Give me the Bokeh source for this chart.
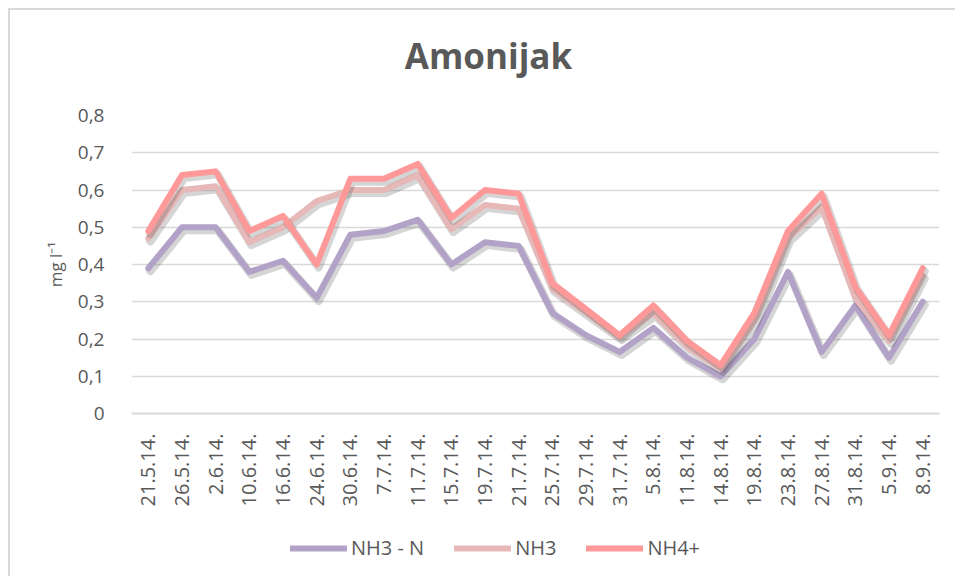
from bokeh.plotting import figure
from bokeh.models import (FactorRange, Range1d, FixedTicker, Legend, LegendItem, Label)
from bokeh.layouts import column
from bokeh.transform import dodge
from bokeh.embed import file_html
from bokeh.resources import INLINE
from math import pi

# ---- data ----
dates = ["21.5.14.", "26.5.14.", "2.6.14.", "10.6.14.", "16.6.14.", "24.6.14.",
         "30.6.14.", "7.7.14.", "11.7.14.", "15.7.14.", "19.7.14.", "21.7.14.",
         "25.7.14.", "29.7.14.", "31.7.14.", "5.8.14.", "11.8.14.", "14.8.14.",
         "19.8.14.", "23.8.14.", "27.8.14.", "31.8.14.", "5.9.14.", "8.9.14."]
nh3_n = [0.39, 0.50, 0.50, 0.38, 0.41, 0.31, 0.48, 0.49, 0.52, 0.40, 0.46, 0.45,
         0.27, 0.21, 0.165, 0.23, 0.15, 0.10, 0.20, 0.38, 0.165, 0.29, 0.15, 0.30]
nh3 = [0.47, 0.60, 0.61, 0.46, 0.50, 0.57, 0.60, 0.60, 0.64, 0.495, 0.56, 0.55,
       0.335, 0.27, 0.205, 0.27, 0.18, 0.12, 0.25, 0.47, 0.555, 0.31, 0.195, 0.37]
nh4 = [0.49, 0.64, 0.65, 0.49, 0.53, 0.40, 0.63, 0.63, 0.67, 0.525, 0.60, 0.59,
       0.35, 0.28, 0.21, 0.29, 0.195, 0.13, 0.27, 0.49, 0.59, 0.34, 0.21, 0.39]
series_names = ["NH3 - N", "NH3", "NH4+"]
series_colors = ["#B3A2C7", "#E6B9B8", "#FF9999"]
series_values = [nh3_n, nh3, nh4]
y_ticks = [0, 0.1, 0.2, 0.3, 0.4, 0.5, 0.6, 0.7, 0.8]
y_tick_labels = ["0", "0,1", "0,2", "0,3", "0,4", "0,5", "0,6", "0,7", "0,8"]
title_text = "Amonijak"
y_title = "mg l\u207b\u00b9"

TXT = "#595959"
FONT = "Open Sans"
W = 945
ML, MR = 121, 16          # frame margins shared by all strips
FW = W - ML - MR          # frame width


def strip(h, x_range, y_range):
    f = figure(width=W, height=h, output_backend="svg", toolbar_location=None,
               x_range=x_range, y_range=y_range,
               x_axis_type=None, y_axis_type=None,
               min_border_left=ML, min_border_right=MR,
               min_border_top=0, min_border_bottom=0,
               outline_line_color=None, background_fill_color="white",
               border_fill_color="white")
    f.grid.visible = False
    return f


# ---- title strip ----
top = strip(85, Range1d(0, FW), Range1d(0, 85))
top.add_layout(Label(x=357, y=40, text=title_text, text_align="center",
                     text_baseline="middle", text_font=FONT,
                     text_font_size="35px", text_font_style="bold",
                     text_color=TXT))

# ---- main chart ----
p = figure(width=W, height=435, output_backend="svg", toolbar_location=None,
           x_range=FactorRange(*dates), y_range=Range1d(0, 0.8),
           min_border_left=ML, min_border_right=MR, min_border_top=20,
           min_border_bottom=117, outline_line_color=None,
           background_fill_color="white", border_fill_color="white")

p.yaxis.ticker = FixedTicker(ticks=y_ticks)
p.yaxis.major_label_overrides = {t: l for t, l in zip(y_ticks, y_tick_labels)}
p.yaxis.axis_line_color = None
p.yaxis.major_tick_line_color = None
p.yaxis.minor_tick_line_color = None
p.yaxis.major_label_standoff = 21
p.yaxis.major_label_text_font = FONT
p.yaxis.major_label_text_font_size = "19px"
p.yaxis.major_label_text_color = TXT
p.yaxis.axis_label = y_title
p.yaxis.axis_label_text_font = FONT
p.yaxis.axis_label_text_font_size = "17px"
p.yaxis.axis_label_text_font_style = "normal"
p.yaxis.axis_label_text_color = TXT
p.yaxis.axis_label_standoff = 8

p.xaxis.axis_line_color = "#D9D9D9"
p.xaxis.axis_line_width = 2
p.xaxis.major_tick_line_color = None
p.xaxis.minor_tick_line_color = None
p.xaxis.major_label_orientation = pi / 2
p.xaxis.major_label_standoff = 14
p.xaxis.major_label_text_font = FONT
p.xaxis.major_label_text_font_size = "20px"
p.xaxis.major_label_text_color = TXT

p.xgrid.grid_line_color = None
p.ygrid.grid_line_color = "#D9D9D9"
p.ygrid.grid_line_width = 1.3

for name, vals, col in zip(series_names, series_values, series_colors):
    src = dict(x=dates, y=vals)
    p.line(x=dodge("x", 0.06, range=p.x_range), y=dodge("y", -0.008), source=src,
           line_color="#404040", line_alpha=0.22, line_width=8,
           line_join="round", line_cap="round")
    p.line(x="x", y="y", source=src, line_color=col, line_width=6,
           line_join="round", line_cap="round")

# ---- legend strip (series drawn out of view, only their legend glyphs show) ----
leg = strip(46, FactorRange(*dates), Range1d(5, 6))
items = []
for name, vals, col in zip(series_names, series_values, series_colors):
    r = leg.line(x=dates, y=vals, line_color=col, line_width=6, line_cap="round")
    items.append(LegendItem(label=name, renderers=[r]))
legend = Legend(items=items, orientation="horizontal", location=(159, 15),
                glyph_width=57, glyph_height=20, label_standoff=4, spacing=30,
                label_height=20, padding=0, margin=0, border_line_color=None,
                background_fill_alpha=0, label_text_font=FONT,
                label_text_font_size="20px", label_text_color=TXT)
leg.add_layout(legend, "center")

layout = column(top, p, leg, spacing=0)
layout.styles = {"margin-left": "8px", "margin-top": "8px",
                 "border-left": "2px solid #D9D9D9", "border-top": "2px solid #D9D9D9"}

open("out.html", "w").write(file_html(layout, INLINE))
